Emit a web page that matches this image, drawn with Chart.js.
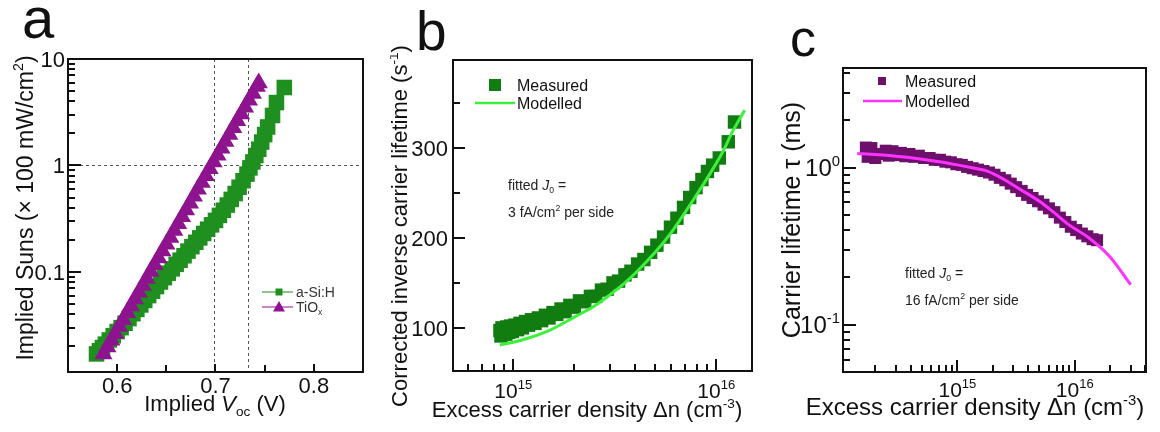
<!DOCTYPE html>
<html>
<head>
<meta charset="utf-8">
<script src="https://cdn.jsdelivr.net/npm/chart.js@4.4.1/dist/chart.umd.min.js"></script>
<style>
  html, body { margin: 0; padding: 0; background: #fff; }
  #wrap { position: relative; width: 1160px; height: 432px; overflow: hidden; }
  canvas { position: absolute; top: 0; }
</style>
</head>
<body>
<div id="wrap">
  <canvas id="pa" width="390" height="432" style="left:0"></canvas>
  <canvas id="pb" width="380" height="432" style="left:390px"></canvas>
  <canvas id="pc" width="390" height="432" style="left:770px"></canvas>
</div>
<script>
// ---- (a) implied Suns-Voc ----
const aSiVoc = [0.579, 0.582, 0.585, 0.588, 0.592, 0.596, 0.600, 0.604, 0.608, 0.612,
  0.616, 0.620, 0.624, 0.628, 0.632, 0.636, 0.640, 0.644, 0.648, 0.652,
  0.656, 0.660, 0.664, 0.668, 0.672, 0.676, 0.680, 0.684, 0.688, 0.692,
  0.696, 0.700, 0.704, 0.708, 0.712, 0.716, 0.720, 0.724, 0.728, 0.732,
  0.735, 0.738, 0.741, 0.744, 0.747, 0.750, 0.753, 0.758, 0.762, 0.770];
const aSiSuns = [0.0170, 0.0182, 0.0195, 0.0210, 0.0230, 0.0252, 0.0276, 0.0300, 0.0330, 0.0365,
  0.0405, 0.0445, 0.0490, 0.0540, 0.0600, 0.0660, 0.0730, 0.0805, 0.0885, 0.0975,
  0.107, 0.118, 0.129, 0.142, 0.157, 0.173, 0.190, 0.209, 0.230, 0.252,
  0.277, 0.305, 0.340, 0.380, 0.425, 0.480, 0.545, 0.625, 0.720, 0.830,
  0.95, 1.08, 1.24, 1.42, 1.66, 1.95, 2.30, 2.95, 3.90, 5.40];
const tioxVoc = [0.586, 0.590, 0.594, 0.598, 0.602, 0.606, 0.610, 0.614, 0.618, 0.622,
  0.626, 0.630, 0.634, 0.638, 0.642, 0.646, 0.650, 0.654, 0.658, 0.662,
  0.666, 0.670, 0.674, 0.678, 0.682, 0.686, 0.690, 0.694, 0.698, 0.702,
  0.706, 0.710, 0.714, 0.718, 0.722, 0.726, 0.730, 0.734, 0.738, 0.742, 0.744];
const tioxSuns = [0.0170, 0.0197, 0.0229, 0.0265, 0.0308, 0.0356, 0.0413, 0.0480, 0.0556, 0.0645,
  0.0748, 0.0867, 0.101, 0.117, 0.135, 0.157, 0.182, 0.211, 0.245, 0.284,
  0.330, 0.382, 0.443, 0.514, 0.597, 0.692, 0.802, 0.931, 1.08, 1.25,
  1.45, 1.68, 1.95, 2.26, 2.63, 3.05, 3.53, 4.10, 4.75, 5.52, 5.94];
const aGuideVoc = [0.698, 0.733];
const aGuideSuns = [1];
const aXTicks = [0.6, 0.7, 0.8];
const aXMinor = [0.65, 0.75];
const aYTicks = [0.1, 1, 10];
const aYMinor = [0.02, 0.03, 0.04, 0.05, 0.06, 0.07, 0.08, 0.09,
  0.2, 0.3, 0.4, 0.5, 0.6, 0.7, 0.8, 0.9, 2, 3, 4, 5, 6, 7, 8, 9];

// ---- (b) corrected inverse lifetime ----
const bMeasN = [0.86e15, 0.87e15, 0.88e15, 0.89e15, 0.90e15, 0.92e15, 0.93e15, 0.95e15, 0.97e15, 0.99e15,
  1.02e15, 1.05e15, 1.08e15, 1.11e15, 1.15e15, 1.19e15, 1.23e15, 1.28e15, 1.33e15, 1.38e15,
  1.44e15, 1.50e15, 1.57e15, 1.64e15, 1.72e15, 1.80e15, 1.90e15, 2.00e15, 2.12e15, 2.25e15,
  2.40e15, 2.55e15, 2.72e15, 2.90e15, 3.10e15, 3.30e15, 3.55e15, 3.80e15, 4.10e15, 4.40e15,
  4.75e15, 5.10e15, 5.50e15, 5.95e15, 6.40e15, 6.90e15, 7.40e15, 7.95e15, 8.50e15, 9.05e15,
  9.60e15, 1.035e16, 1.146e16, 1.23e16];
const bMeasInv = [97, 91, 100, 93, 99, 93, 101, 95, 102, 96,
  103, 98, 105, 100, 107, 103, 109, 105, 111, 108,
  114, 111, 117, 115, 121, 118, 125, 123, 130, 129,
  135, 135, 142, 143, 150, 152, 159, 163, 171, 176,
  184, 192, 201, 212, 222, 234, 245, 256, 265, 274,
  281, 289, 307, 329];
const bModelN = [0.86e15, 1.0e15, 1.2e15, 1.5e15, 2.0e15, 2.5e15, 3.0e15, 3.5e15, 4.0e15, 5.0e15,
  6.0e15, 7.0e15, 8.0e15, 9.0e15, 1.0e16, 1.1e16, 1.2e16, 1.3e16, 1.38e16];
const bModelInv = [81, 84, 89, 97, 112, 124, 137, 149, 161, 184,
  206, 228, 248, 266, 283, 300, 318, 332, 342];
const bXTicks = [1e15, 1e16];
const bXMinor = [6e14, 7e14, 8e14, 9e14, 2e15, 3e15, 4e15, 5e15, 6e15, 7e15, 8e15, 9e15];
const bYTicks = [100, 200, 300];
const bYMinor = [150, 250, 350];

// ---- (c) carrier lifetime ----
const cMeasN = [1.66e14, 1.72e14, 1.85e14, 2.0e14, 2.2e14, 2.45e14, 2.6e14, 2.8e14, 3.0e14, 3.3e14,
  3.6e14, 3.9e14, 4.3e14, 4.7e14, 5.2e14, 5.8e14, 6.4e14, 7.1e14, 7.9e14, 8.8e14,
  9.8e14, 1.09e15, 1.21e15, 1.35e15, 1.5e15, 1.67e15, 1.86e15, 2.07e15, 2.3e15, 2.56e15,
  2.85e15, 3.17e15, 3.53e15, 3.93e15, 4.37e15, 4.87e15, 5.42e15, 6.03e15, 6.71e15, 7.47e15,
  8.32e15, 9.26e15, 1.03e16, 1.15e16, 1.28e16, 1.42e16, 1.55e16];
const cMeasTau = [1.34, 1.17, 1.33, 1.15, 1.22, 1.28, 1.19, 1.27, 1.20, 1.24,
  1.18, 1.22, 1.17, 1.19, 1.15, 1.15, 1.12, 1.12, 1.09, 1.08,
  1.05, 1.04, 1.01, 0.99, 0.97, 0.95, 0.93, 0.90, 0.86, 0.83,
  0.79, 0.75, 0.71, 0.67, 0.64, 0.61, 0.58, 0.55, 0.52, 0.48,
  0.45, 0.42, 0.40, 0.38, 0.365, 0.35, 0.345];
const cModelN = [1.4e14, 2e14, 3e14, 5e14, 7e14, 1e15, 1.4e15, 1.8e15, 2.5e15, 3.5e15,
  5e15, 6.6e15, 9e15, 1.3e16, 2e16, 3e16];
const cModelTau = [1.23, 1.21, 1.18, 1.13, 1.09, 1.04, 0.99, 0.95, 0.84, 0.72,
  0.61, 0.52, 0.43, 0.36, 0.27, 0.18];
const cXTicks = [1e15, 1e16];
const cXMinor = [2e14, 3e14, 4e14, 5e14, 6e14, 7e14, 8e14, 9e14,
  2e15, 3e15, 4e15, 5e15, 6e15, 7e15, 8e15, 9e15, 2e16, 3e16, 4e16];
const cYTicks = [0.1, 1];
const cYMinor = [0.06, 0.07, 0.08, 0.09, 0.2, 0.3, 0.4, 0.5, 0.6, 0.7, 0.8, 0.9, 2, 3, 4];

const FONT = "'Liberation Sans', Arial, Helvetica, sans-serif";
const INK = '#111';
const GREEN_A = '#1f8f1f', PURPLE_A = '#8e138e';
const GREEN_B = '#117d11', LIME_B = '#3cf03c';
const PURPLE_C = '#6c106c', PINK_C = '#ff33ff';

const pts = (xs, ys) => xs.map((v, i) => ({x: v, y: ys[i]}));
const pow10 = v => ['10', {t: String(Math.round(Math.log10(v))), sup: true}];

// text made of runs: plain strings or {t, sup, sub, it}
function rich(ctx, runs, x, y, size, align) {
  const parts = runs.map(r => typeof r === 'string' ? {t: r} : r);
  const fontOf = p => (p.it ? 'italic ' : '') + (p.sup || p.sub ? size * 0.62 : size) + 'px ' + FONT;
  let w = 0;
  parts.forEach(p => { ctx.font = fontOf(p); p.w = ctx.measureText(p.t).width; w += p.w; });
  let cx = align === 'center' ? x - w / 2 : align === 'right' ? x - w : x;
  ctx.textAlign = 'left';
  ctx.textBaseline = 'alphabetic';
  parts.forEach(p => {
    ctx.font = fontOf(p);
    const dy = p.sup ? -size * 0.42 : p.sub ? size * 0.24 : 0;
    ctx.fillText(p.t, cx, y + dy);
    cx += p.w;
  });
}

function marker(ctx, kind, cx, cy, s, color) {
  ctx.fillStyle = color;
  ctx.beginPath();
  if (kind === 'tri') {
    ctx.moveTo(cx, cy - s * 0.6);
    ctx.lineTo(cx + s * 0.6, cy + s * 0.45);
    ctx.lineTo(cx - s * 0.6, cy + s * 0.45);
    ctx.closePath();
  } else {
    ctx.rect(cx - s / 2, cy - s / 2, s, s);
  }
  ctx.fill();
}

// frame, inward ticks, labels, titles, legend and notes for one panel
function decor(spec) {
  return {
    id: 'decor',
    beforeDatasetsDraw(chart) {
      const {ctx, chartArea: a, scales: {x, y}} = chart;
      if (!spec.guides) return;
      ctx.save();
      ctx.strokeStyle = '#555';
      ctx.lineWidth = 1;
      ctx.setLineDash([3, 3]);
      ctx.beginPath();
      spec.guides.x.forEach(v => {
        const p = Math.round(x.getPixelForValue(v)) + 0.5;
        ctx.moveTo(p, a.top); ctx.lineTo(p, a.bottom);
      });
      spec.guides.y.forEach(v => {
        const p = Math.round(y.getPixelForValue(v)) + 0.5;
        ctx.moveTo(a.left, p); ctx.lineTo(a.right, p);
      });
      ctx.stroke();
      ctx.restore();
    },
    afterDraw(chart) {
      const {ctx, chartArea: a, scales: {x, y}} = chart;
      ctx.save();
      ctx.setLineDash([]);
      ctx.strokeStyle = INK;
      ctx.lineWidth = 2;
      ctx.strokeRect(a.left, a.top, a.right - a.left, a.bottom - a.top);

      // tick marks point into the plot
      const xt = (vals, len) => vals.forEach(v => {
        const p = Math.round(x.getPixelForValue(v));
        ctx.beginPath();
        ctx.moveTo(p, a.bottom); ctx.lineTo(p, a.bottom - len);
        ctx.stroke();
      });
      const yt = (vals, len) => vals.forEach(v => {
        const p = Math.round(y.getPixelForValue(v));
        ctx.beginPath();
        ctx.moveTo(a.left, p); ctx.lineTo(a.left + len, p);
        ctx.stroke();
      });
      xt(spec.x.major, spec.x.len[0]); xt(spec.x.minor, spec.x.len[1]);
      yt(spec.y.major, spec.y.len[0]); yt(spec.y.minor, spec.y.len[1]);

      ctx.fillStyle = INK;
      spec.x.major.forEach(v => rich(ctx, spec.x.fmt(v), x.getPixelForValue(v), spec.x.base, spec.x.size, 'center'));
      spec.y.major.forEach(v => rich(ctx, spec.y.fmt(v), spec.y.edge,
        y.getPixelForValue(v) + spec.y.size * 0.36, spec.y.size, 'right'));

      rich(ctx, spec.xTitle.runs, spec.xTitle.x, spec.xTitle.y, spec.xTitle.size, 'center');
      ctx.save();
      ctx.translate(spec.yTitle.x, spec.yTitle.y);
      ctx.rotate(-Math.PI / 2);
      rich(ctx, spec.yTitle.runs, 0, 0, spec.yTitle.size, 'center');
      ctx.restore();

      ctx.font = spec.letter.size + 'px ' + FONT;
      ctx.textAlign = 'left';
      ctx.fillText(spec.letter.t, spec.letter.x, spec.letter.y);

      spec.legend.forEach(it => {
        if (it.line) {
          ctx.strokeStyle = it.line.color;
          ctx.lineWidth = it.line.w;
          ctx.beginPath();
          ctx.moveTo(it.line.x1, it.cy); ctx.lineTo(it.line.x2, it.cy);
          ctx.stroke();
        }
        if (it.mark) marker(ctx, it.mark, it.cx, it.cy, it.s, it.color);
        ctx.fillStyle = it.ink || INK;
        rich(ctx, it.runs, it.tx, it.cy + it.fs * 0.36, it.fs, 'left');
      });
      ctx.fillStyle = '#222';
      spec.notes.forEach(n => rich(ctx, n.runs, n.x, n.cy + n.fs * 0.36, n.fs, 'left'));
      ctx.restore();
    }
  };
}

function hidden(type, min, max) {
  return {type, min, max, display: false};
}

function panel(id, datasets, scales, padding, spec) {
  return new Chart(document.getElementById(id), {
    type: 'scatter',
    data: {datasets},
    options: {
      responsive: false,
      animation: false,
      devicePixelRatio: 1,
      layout: {padding},
      scales,
      plugins: {legend: {display: false}, tooltip: {enabled: false}}
    },
    plugins: [decor(spec)]
  });
}

// (a)
panel('pa', [
  {label: 'TiOx', data: pts(tioxVoc, tioxSuns), pointStyle: 'triangle', pointRadius: 10.5,
    backgroundColor: PURPLE_A, borderColor: PURPLE_A, pointBorderWidth: 0, order: 0},
  {label: 'a-Si:H', data: pts(aSiVoc, aSiSuns), pointStyle: 'rect', pointRadius: 11,
    backgroundColor: GREEN_A, borderColor: GREEN_A, pointBorderWidth: 0, order: 1}
], {
  x: hidden('linear', 0.55, 0.85),
  y: hidden('logarithmic', 0.0115, 10)
}, {left: 68, right: 27, top: 59, bottom: 60}, {
  guides: {x: aGuideVoc, y: aGuideSuns},
  x: {major: aXTicks, minor: aXMinor, len: [8, 7], fmt: v => [v.toFixed(1)], base: 393, size: 22},
  y: {major: aYTicks, minor: aYMinor, len: [13, 7], fmt: v => [String(v)], edge: 65, size: 22},
  xTitle: {runs: ['Implied ', {t: 'V', it: true}, {t: 'oc', sub: true}, ' (V)'], x: 215, y: 411, size: 22},
  yTitle: {runs: ['Implied Suns (\u00d7 100 mW/cm', {t: '2', sup: true}, ')'], x: 33, y: 208, size: 23},
  letter: {t: 'a', x: 22, y: 38, size: 58},
  legend: [
    {mark: 'rect', cx: 279, cy: 292, s: 7, color: GREEN_A, line: {x1: 262, x2: 293, color: GREEN_A, w: 1},
      tx: 296, runs: ['a-Si:H'], fs: 14, ink: '#333'},
    {mark: 'tri', cx: 279, cy: 307, s: 10, color: PURPLE_A, line: {x1: 262, x2: 293, color: PURPLE_A, w: 1},
      tx: 296, runs: ['TiO', {t: 'x', sub: true}], fs: 14, ink: '#333'}
  ],
  notes: []
});

// (b)
panel('pb', [
  {label: 'Modelled', data: pts(bModelN, bModelInv), showLine: true, pointRadius: 0,
    borderColor: LIME_B, borderWidth: 3, cubicInterpolationMode: 'monotone', order: 0},
  {label: 'Measured', data: pts(bMeasN, bMeasInv), pointStyle: 'rect', pointRadius: 9.5,
    backgroundColor: GREEN_B, borderColor: GREEN_B, pointBorderWidth: 0, order: 1}
], {
  x: hidden('logarithmic', 5.05e14, 1.5e16),
  y: hidden('linear', 52, 398)
}, {left: 63, right: 18, top: 60, bottom: 61}, {
  x: {major: bXTicks, minor: bXMinor, len: [12, 7], fmt: pow10, base: 398, size: 21},
  y: {major: bYTicks, minor: bYMinor, len: [12, 7], fmt: v => [String(v)], edge: 58, size: 22},
  xTitle: {runs: ['Excess carrier density \u0394n (cm', {t: '-3', sup: true}, ')'], x: 197, y: 417, size: 22},
  yTitle: {runs: ['Corrected inverse carrier lifetime (s', {t: '-1', sup: true}, ')'], x: 17, y: 226, size: 22},
  letter: {t: 'b', x: 26, y: 50, size: 55},
  legend: [
    {mark: 'rect', cx: 105, cy: 85, s: 12, color: GREEN_B, tx: 127, runs: ['Measured'], fs: 16},
    {line: {x1: 85, x2: 125, color: LIME_B, w: 2.5}, cy: 103, tx: 127, runs: ['Modelled'], fs: 16}
  ],
  notes: [
    {x: 118, cy: 185, fs: 14, runs: ['fitted ', {t: 'J', it: true}, {t: '0', sub: true}, ' =']},
    {x: 118, cy: 212, fs: 14, runs: ['3 fA/cm', {t: '2', sup: true}, ' per side']}
  ]
});

// (c)
panel('pc', [
  {label: 'Modelled', data: pts(cModelN, cModelTau), showLine: true, pointRadius: 0,
    borderColor: PINK_C, borderWidth: 3, cubicInterpolationMode: 'monotone', order: 0},
  {label: 'Measured', data: pts(cMeasN, cMeasTau), pointStyle: 'rect', pointRadius: 8.5,
    backgroundColor: PURPLE_C, borderColor: PURPLE_C, pointBorderWidth: 0, order: 1}
], {
  x: hidden('logarithmic', 1.06e14, 4.05e16),
  y: hidden('logarithmic', 0.05, 4.3)
}, {left: 73, right: 14, top: 68, bottom: 60}, {
  x: {major: cXTicks, minor: cXMinor, len: [12, 7], fmt: pow10, base: 397, size: 21},
  y: {major: cYTicks, minor: cYMinor, len: [13, 7], fmt: pow10, edge: 70, size: 24},
  xTitle: {runs: ['Excess carrier density \u0394n (cm', {t: '-3', sup: true}, ')'], x: 205, y: 415, size: 24},
  yTitle: {runs: ['Carrier lifetime \u03c4 (ms)'], x: 30, y: 220, size: 25},
  letter: {t: 'c', x: 20, y: 56, size: 52},
  legend: [
    {mark: 'rect', cx: 112, cy: 81, s: 8, color: PURPLE_C, tx: 135, runs: ['Measured'], fs: 16},
    {line: {x1: 93, x2: 132, color: PINK_C, w: 2.5}, cy: 101, tx: 135, runs: ['Modelled'], fs: 16}
  ],
  notes: [
    {x: 135, cy: 273, fs: 14, runs: ['fitted ', {t: 'J', it: true}, {t: '0', sub: true}, ' =']},
    {x: 135, cy: 300, fs: 14, runs: ['16 fA/cm', {t: '2', sup: true}, ' per side']}
  ]
});
</script>
</body>
</html>
